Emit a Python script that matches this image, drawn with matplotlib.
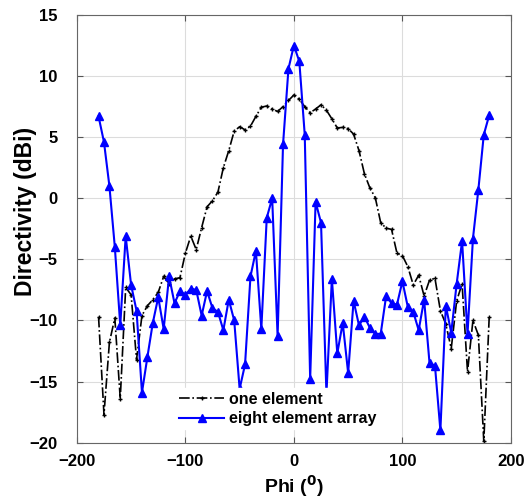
import matplotlib
matplotlib.use("Agg")
import matplotlib.pyplot as plt
import numpy as np

plt.rcParams["font.family"] = ["Liberation Sans", "DejaVu Sans"]
plt.rcParams["font.weight"] = "bold"
plt.rcParams["mathtext.default"] = "bf"

# phi sampled every 5 degrees
phi = np.arange(-180, 181, 5)

one_element = [
    -9.7, -17.7, -11.8, -9.8, -16.4, -7.3, -7.9, -13.2, -9.6, -8.8,
    -8.3, -7.7, -6.4, -7.0, -6.6, -6.5, -4.5, -3.1, -4.2, -2.4,
    -0.7, -0.2, 0.5, 2.5, 3.9, 5.5, 5.85, 5.6, 5.9, 6.7,
    7.45, 7.55, 7.3, 7.1, 7.5, 8.0, 8.45, 8.1, 7.5, 7.0,
    7.3, 7.65, 7.2, 6.5, 5.75, 5.8, 5.7, 5.25, 3.9, 2.0,
    0.85, 0.05, -2.0, -2.45, -2.55, -4.5, -4.7, -5.6, -7.1, -6.3,
    -8.0, -6.7, -6.55, -9.2, -10.3, -12.3, -8.4, -7.0, -14.2, -10.0,
    -11.2, -19.9, -9.7,
]

eight_element = [
    6.7, 4.6, 1.0, -4.0, -10.4, -3.1, -7.1, -9.2, -15.9, -13.0,
    -10.2, -8.1, -10.7, -6.4, -8.6, -7.6, -7.9, -7.4, -7.5, -9.6,
    -7.6, -9.0, -9.3, -10.8, -8.3, -10.0, -15.6, -13.6, -6.4, -4.3,
    -10.7, -1.6, 0.0, -11.3, 4.4, 10.6, 12.5, 11.2, 5.2, -14.8,
    -0.3, -2.0, -16.0, -6.6, -12.7, -10.2, -14.3, -8.4, -10.4, -9.7,
    -10.6, -11.1, -11.1, -8.0, -8.6, -8.7, -6.8, -8.9, -9.3, -10.8,
    -8.3, -13.5, -13.7, -19.0, -8.8, -11.0, -7.0, -3.5, -11.1, -3.3,
    0.7, 5.2, 6.8,
]

fig = plt.figure(figsize=(5.30, 4.99), dpi=100)
ax = fig.add_axes([0.145, 0.113, 0.819, 0.857])

ax.plot(phi, one_element, color="black", linestyle="-.", linewidth=1.2,
        marker="+", markersize=3, label="one element")
ax.plot(phi, eight_element, color="blue", linestyle="-", linewidth=1.5,
        marker="^", markersize=6, label="eight element array")

ax.set_xlim(-200, 200)
ax.set_ylim(-20, 15)
ax.set_xticks([-200, -100, 0, 100, 200])
ax.set_yticks(np.arange(-20, 16, 5))
ax.grid(True, color="#dcdcdc", linewidth=0.8)
ax.set_axisbelow(True)
ax.tick_params(direction="in", top=True, right=True, labelsize=12,
               color="#555555", length=4)
ax.tick_params(axis="x", pad=8)
ax.tick_params(axis="y", pad=14)
for s in ax.spines.values():
    s.set_color("#666666")

ax.set_xlabel(r"Phi ($^{0}$)", fontsize=14, fontweight="bold")
ax.set_ylabel("Directivity (dBi)", fontsize=16.5, fontweight="bold")
ax.xaxis.set_label_coords(0.5, -0.071)
ax.yaxis.set_label_coords(-0.092, 0.54)

leg = ax.legend(loc="lower left", bbox_to_anchor=(0.21, 0.012), fontsize=11.5,
                handlelength=2.8, frameon=True, facecolor="white",
                edgecolor="white", framealpha=1, borderpad=0.2,
                labelspacing=0.3, handletextpad=0.3)

fig.savefig("out.png", dpi=100)
